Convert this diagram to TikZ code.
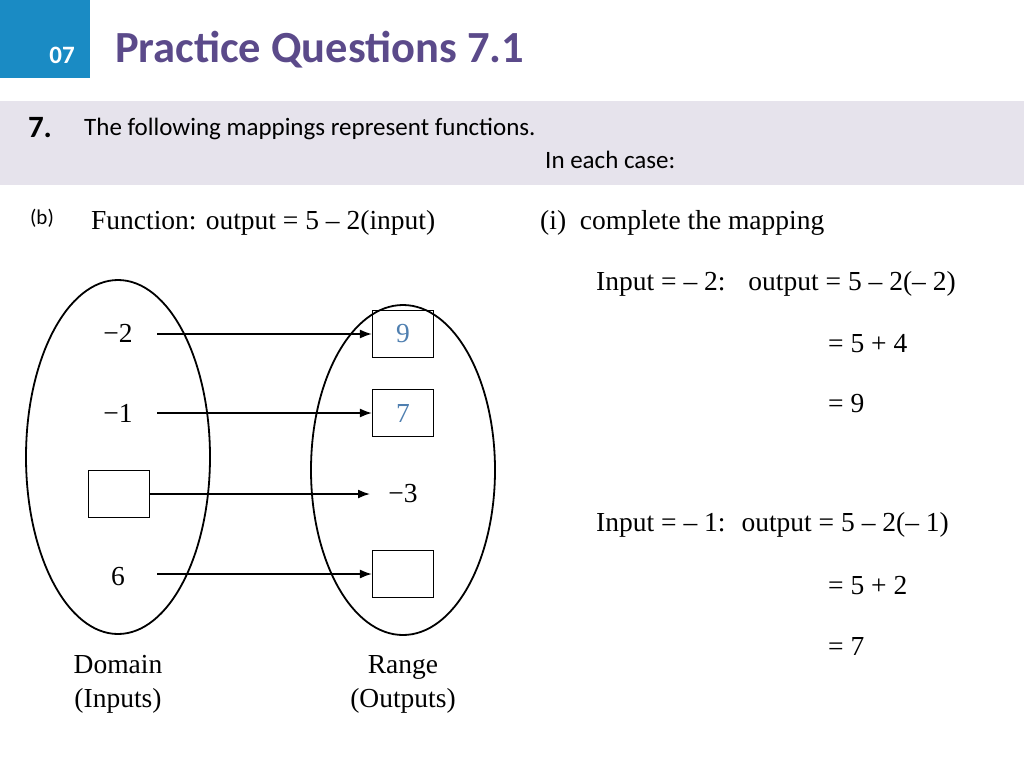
\documentclass[tikz,border=0pt]{standalone}
\usepackage{fontspec}
\setmainfont{Liberation Serif}
\newfontfamily\calibri{Carlito}
\usetikzlibrary{arrows.meta}
\definecolor{tabblue}{HTML}{1A8BC4}
\definecolor{titlepurple}{HTML}{5B4A8A}
\definecolor{bandgrey}{HTML}{E6E3EC}
\definecolor{answerblue}{HTML}{4F7FB0}
\tikzset{
  serif/.style={font=\fontsize{27.5}{34}\selectfont, inner sep=0pt},
  sans/.style={font=\calibri\fontsize{25}{30}\selectfont, inner sep=0pt},
  valbox/.style={draw, line width=1.2pt, minimum width=61pt, minimum height=47pt, inner sep=0pt,
    font=\fontsize{27.5}{30}\selectfont},
  maparrow/.style={-{Latex[length=12pt,width=9pt]}, line width=1.6pt}
}
\begin{document}
\begin{tikzpicture}[x=1pt,y=-1pt]
\useasboundingbox (0,0) rectangle (1024,768);
% header
\fill[tabblue] (0,0) rectangle (90,78);
\node[sans, text=white, font=\calibri\bfseries\fontsize{25}{28}\selectfont] (num) at (62,55) {07};
\node[anchor=west, inner sep=0pt, text=titlepurple, font=\calibri\bfseries\fontsize{44.5}{50}\selectfont] (title) at (115,50) {Practice Questions 7.1};
\fill[bandgrey] (0,101) rectangle (1024,185);
\node[sans, font=\calibri\bfseries\fontsize{31}{34}\selectfont] (qnum) at (40,128) {7.};
\node[sans, anchor=west] (intro) at (84,129) {The following mappings represent functions.};
\node[sans, anchor=west] (each) at (545,160) {In each case:};
% part b
\node[sans, font=\calibri\fontsize{21}{24}\selectfont] (partb) at (42,218) {(b)};
\node[serif, anchor=west] (func) at (91,223) {Function: output = 5 -- 2(input)};
\node[serif, anchor=west] (parti) at (540,223) {(i) \ complete the mapping};
% mapping
\draw[line width=1.8pt] (118,457) ellipse [x radius=92, y radius=177];
\draw[line width=1.8pt] (403,470) ellipse [x radius=92, y radius=165];
\node[serif] (in1) at (118,333) {−2};
\node[serif] (in2) at (118,413) {−1};
\node[valbox] (in3) at (119,494) {};
\node[serif] (in4) at (118,577) {6};
\node[valbox, text=answerblue] (out1) at (403,334) {9};
\node[valbox, text=answerblue] (out2) at (403,413) {7};
\node[serif] (out3) at (403,494) {−3};
\node[valbox] (out4) at (403,574) {};
\draw[maparrow] (157,334) -- (out1.west);
\draw[maparrow] (157,413) -- (out2.west);
\draw[maparrow] (in3.east) -- (370,494);
\draw[maparrow] (157,574) -- (out4.west);
\node[serif, align=center] (domain) at (118,684) {Domain\\(Inputs)};
\node[serif, align=center] (range) at (403,684) {Range\\(Outputs)};
% working
\node[serif, anchor=west] (w1) at (596,284) {Input = -- 2: \ \ output = 5 -- 2(-- 2)};
\node[serif, anchor=west] (w2) at (828,344) {= 5 + 4};
\node[serif, anchor=west] (w3) at (828,404) {= 9};
\node[serif, anchor=west] (w4) at (596,525) {Input = -- 1: \ output = 5 -- 2(-- 1)};
\node[serif, anchor=west] (w5) at (828,586) {= 5 + 2};
\node[serif, anchor=west] (w6) at (828,646) {= 7};
\end{tikzpicture}
\end{document}
